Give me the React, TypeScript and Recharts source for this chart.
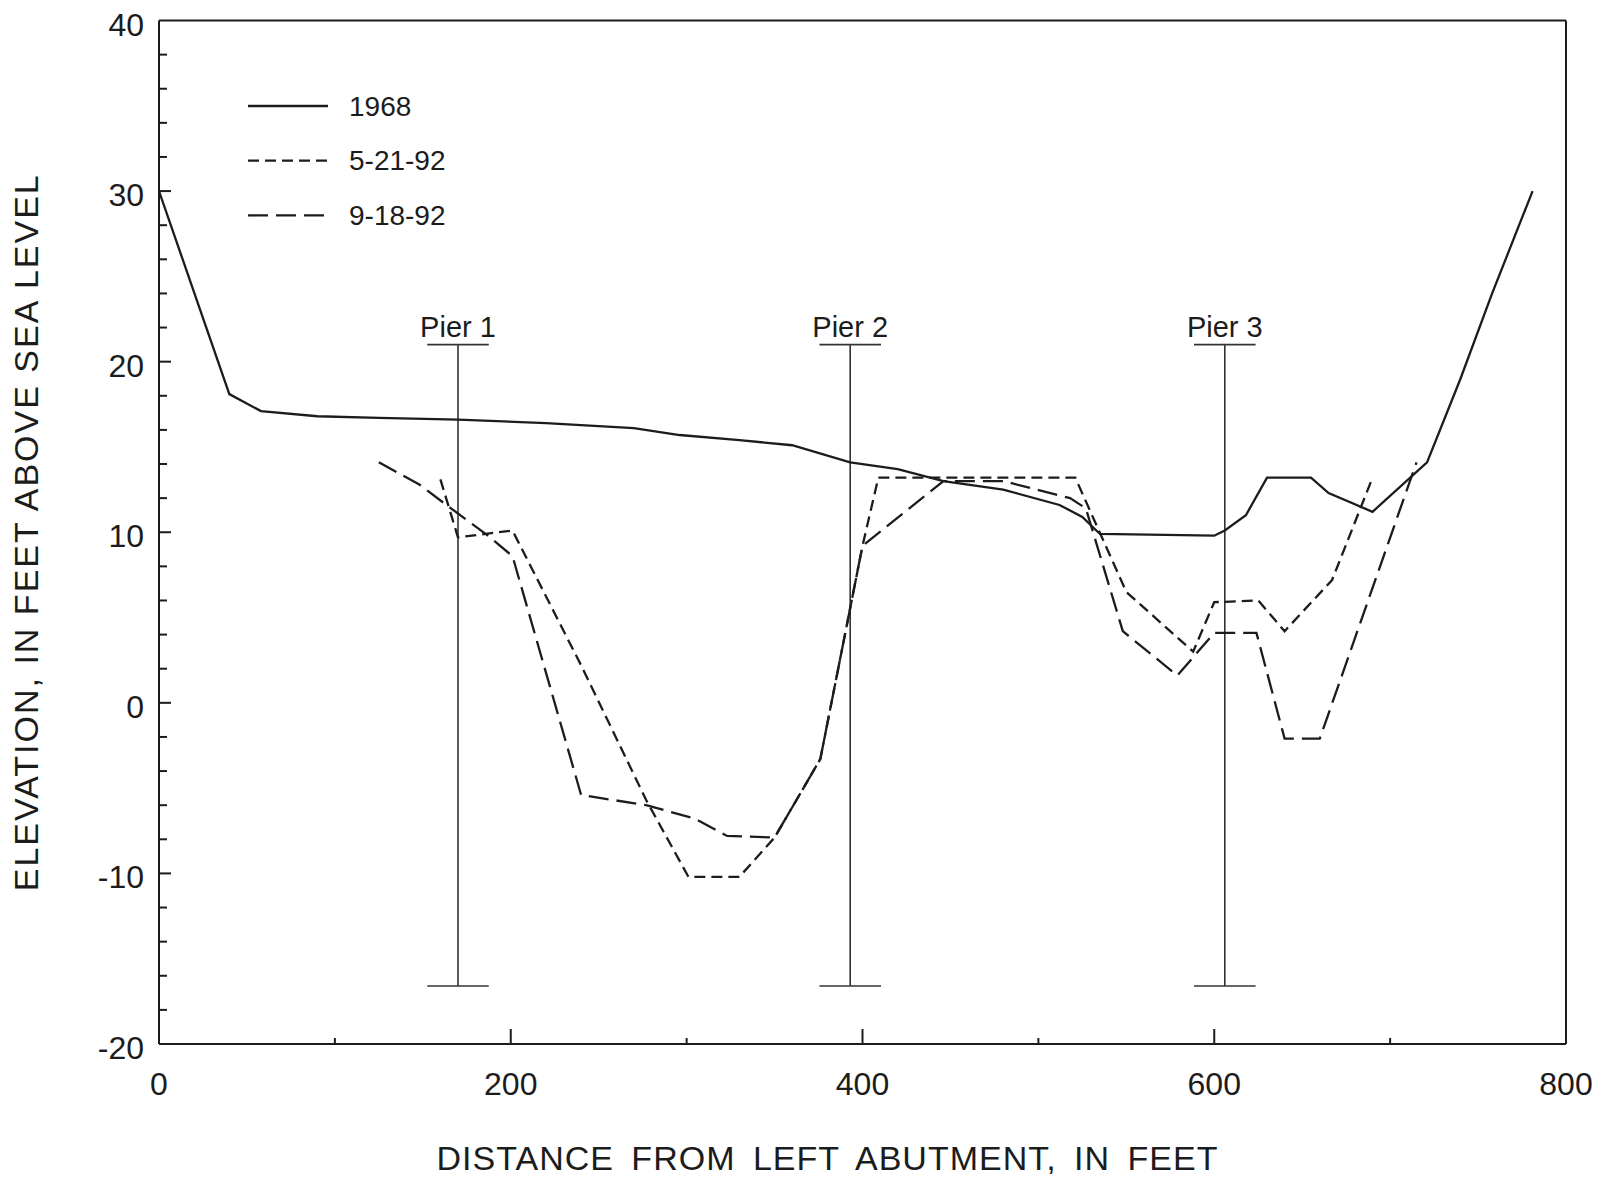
import React from 'react';
import { LineChart, Line, XAxis, YAxis, ReferenceLine, Legend } from 'recharts';

// Channel cross-section surveys: distance from left abutment (ft) vs elevation (ft)
const survey1968Distance = [0, 40, 58, 90, 125, 170, 220, 270, 296, 330, 360, 393, 420, 446, 480, 512, 525, 535, 600, 606, 618, 630, 655, 665, 690, 721, 740, 758, 781];
const survey1968Elevation = [30, 18.1, 17.1, 16.8, 16.7, 16.6, 16.4, 16.1, 15.7, 15.4, 15.1, 14.1, 13.7, 13.0, 12.5, 11.6, 10.9, 9.9, 9.8, 10.1, 11.0, 13.2, 13.2, 12.3, 11.2, 14.1, 19, 24, 30];

const surveyMayDistance = [160, 170, 201, 240, 277, 301, 330, 350, 376, 400, 409, 521, 550, 588, 600, 625, 640, 667, 690];
const surveyMayElevation = [13.1, 9.7, 10.1, 2.2, -5.7, -10.2, -10.2, -7.9, -3.3, 9.2, 13.2, 13.2, 6.5, 3.0, 5.9, 6.0, 4.2, 7.2, 13.2];

const surveySeptDistance = [125, 148, 166, 187, 201, 240, 277, 305, 323, 350, 376, 400, 446, 480, 518, 527, 548, 579, 600, 624, 640, 660, 715];
const surveySeptElevation = [14.1, 12.8, 11.4, 9.8, 8.6, -5.4, -6.0, -6.8, -7.8, -7.9, -3.3, 9.2, 13.0, 13.0, 12.0, 11.4, 4.2, 1.6, 4.1, 4.1, -2.1, -2.1, 14.1];

const pierNames = ['Pier 1', 'Pier 2', 'Pier 3'];
const pierStations = [170, 393, 606];
const pierTop = 21;
const pierBottom = -16.6;
const pierCapHalf = 17.5;

const xTicks = [0, 100, 200, 300, 400, 500, 600, 700, 800];
const yTicks = [-20, -18, -16, -14, -12, -10, -8, -6, -4, -2, 0, 2, 4, 6, 8, 10, 12, 14, 16, 18, 20, 22, 24, 26, 28, 30, 32, 34, 36, 38, 40];

const INK = '#1c1c1c';
const FONT = '"Liberation Sans", Arial, Helvetica, sans-serif';

const toPoints = (xs: number[], ys: number[]) => xs.map((x, i) => ({ x, y: ys[i] }));

const series = [
  { name: '1968', data: toPoints(survey1968Distance, survey1968Elevation), dash: undefined as string | undefined },
  { name: '5-21-92', data: toPoints(surveyMayDistance, surveyMayElevation), dash: '11 6' },
  { name: '9-18-92', data: toPoints(surveySeptDistance, surveySeptElevation), dash: '20 8' },
];

// tick marks point into the plot; labels sit outside
const BottomTick = (props: any) => {
  const { x, y, payload } = props;
  const v = payload.value;
  const major = v % 200 === 0;
  const len = v === 0 || v === 800 ? 0 : major ? 15 : 6;
  return (
    <g>
      {len > 0 && <line x1={x} x2={x} y1={y} y2={y - len} stroke={INK} strokeWidth={2} />}
      {major && (
        <text x={x} y={y + 40} textAnchor="middle" dominantBaseline="central" fontSize={32} fill={INK} fontFamily={FONT}>
          {v}
        </text>
      )}
    </g>
  );
};

const TopTick = (props: any) => {
  const { x, y, payload } = props;
  const v = payload.value;
  if (v === 0 || v === 800) return <g />;
  return <line x1={x} x2={x} y1={y} y2={y + 8} stroke={INK} strokeWidth={2} />;
};

const LeftTick = (props: any) => {
  const { x, y, payload } = props;
  const v = payload.value;
  const major = v % 10 === 0;
  const len = v === -20 || v === 40 ? 0 : major ? 12 : 8;
  return (
    <g>
      {len > 0 && <line x1={x} x2={x + len} y1={y} y2={y} stroke={INK} strokeWidth={2} />}
      {major && (
        <text x={x - 15} y={y + 4} textAnchor="end" dominantBaseline="central" fontSize={32} fill={INK} fontFamily={FONT}>
          {v}
        </text>
      )}
    </g>
  );
};

const RightTick = (props: any) => {
  const { x, y, payload } = props;
  const v = payload.value;
  if (v === -20 || v === 40) return <g />;
  return <line x1={x} x2={x - 8} y1={y} y2={y} stroke={INK} strokeWidth={2} />;
};

const LegendBox = () => (
  <svg width={240} height={160} style={{ display: 'block' }}>
    {series.map((s, i) => (
      <g key={s.name}>
        <line x1={0} x2={80} y1={20 + i * 54.7} y2={20 + i * 54.7} stroke={INK} strokeWidth={2.3} strokeDasharray={s.dash} />
        <text x={101} y={20 + i * 54.7} dominantBaseline="central" fontSize={28} fill={INK} fontFamily={FONT}>
          {s.name}
        </text>
      </g>
    ))}
  </svg>
);

export default function App() {
  return (
    <div style={{ width: 1608, height: 1182, margin: '-8px 0 -8px -8px', background: '#fff' }}>
      <LineChart width={1608} height={1182} margin={{ top: 19.5, right: 41, bottom: 0, left: 0 }} style={{ fontFamily: FONT }}>
        <XAxis
          xAxisId="bottom"
          dataKey="x"
          type="number"
          domain={[0, 800]}
          ticks={xTicks}
          interval={0}
          height={138}
          tickSize={0}
          tickMargin={0}
          tickLine={false}
          tick={<BottomTick />}
          axisLine={{ stroke: INK, strokeWidth: 2 }}
          allowDataOverflow
          label={{
            value: 'DISTANCE FROM LEFT ABUTMENT, IN FEET',
            position: 'insideBottom',
            offset: 12,
            dx: -35,
            fill: INK,
            fontSize: 34,
            style: { letterSpacing: 1, wordSpacing: 7 },
          }}
        />
        <XAxis
          xAxisId="top"
          dataKey="x"
          type="number"
          orientation="top"
          domain={[0, 800]}
          ticks={xTicks}
          interval={0}
          height={1}
          tickSize={0}
          tickMargin={0}
          tickLine={false}
          tick={<TopTick />}
          axisLine={{ stroke: INK, strokeWidth: 2 }}
        />
        <YAxis
          yAxisId="left"
          type="number"
          domain={[-20, 40]}
          ticks={yTicks}
          interval={0}
          width={159}
          tickSize={0}
          tickMargin={0}
          tickLine={false}
          tick={<LeftTick />}
          axisLine={{ stroke: INK, strokeWidth: 2 }}
          allowDataOverflow
          label={{
            value: 'ELEVATION, IN FEET ABOVE SEA LEVEL',
            angle: -90,
            position: 'insideLeft',
            offset: 26,
            fill: INK,
            fontSize: 34,
            style: { textAnchor: 'middle', letterSpacing: 2 },
          }}
        />
        <YAxis
          yAxisId="right"
          type="number"
          orientation="right"
          domain={[-20, 40]}
          ticks={yTicks}
          interval={0}
          width={1}
          tickSize={0}
          tickMargin={0}
          tickLine={false}
          tick={<RightTick />}
          axisLine={{ stroke: INK, strokeWidth: 2 }}
        />

        {pierStations.map((st, i) => (
          <ReferenceLine
            key={`stem-${i}`}
            xAxisId="bottom"
            yAxisId="left"
            segment={[{ x: st, y: pierBottom }, { x: st, y: pierTop }]}
            stroke="#333"
            strokeWidth={1.6}
          />
        ))}
        {pierStations.map((st, i) => (
          <ReferenceLine
            key={`cap-top-${i}`}
            xAxisId="bottom"
            yAxisId="left"
            segment={[{ x: st - pierCapHalf, y: pierTop }, { x: st + pierCapHalf, y: pierTop }]}
            stroke="#333"
            strokeWidth={1.6}
            label={{ value: pierNames[i], position: 'top', offset: 8, fill: INK, fontSize: 29 }}
          />
        ))}
        {pierStations.map((st, i) => (
          <ReferenceLine
            key={`cap-bottom-${i}`}
            xAxisId="bottom"
            yAxisId="left"
            segment={[{ x: st - pierCapHalf, y: pierBottom }, { x: st + pierCapHalf, y: pierBottom }]}
            stroke="#333"
            strokeWidth={1.6}
          />
        ))}

        {series.map((s) => (
          <Line
            key={s.name}
            xAxisId="bottom"
            yAxisId="left"
            data={s.data}
            dataKey="y"
            name={s.name}
            type="linear"
            stroke={INK}
            strokeWidth={2.3}
            strokeDasharray={s.dash}
            dot={false}
            activeDot={false}
            isAnimationActive={false}
          />
        ))}

        <Legend
          layout="vertical"
          align="center"
          verticalAlign="middle"
          content={<LegendBox />}
          wrapperStyle={{ left: 248, top: 85.6, width: 240 }}
        />
      </LineChart>
    </div>
  );
}
